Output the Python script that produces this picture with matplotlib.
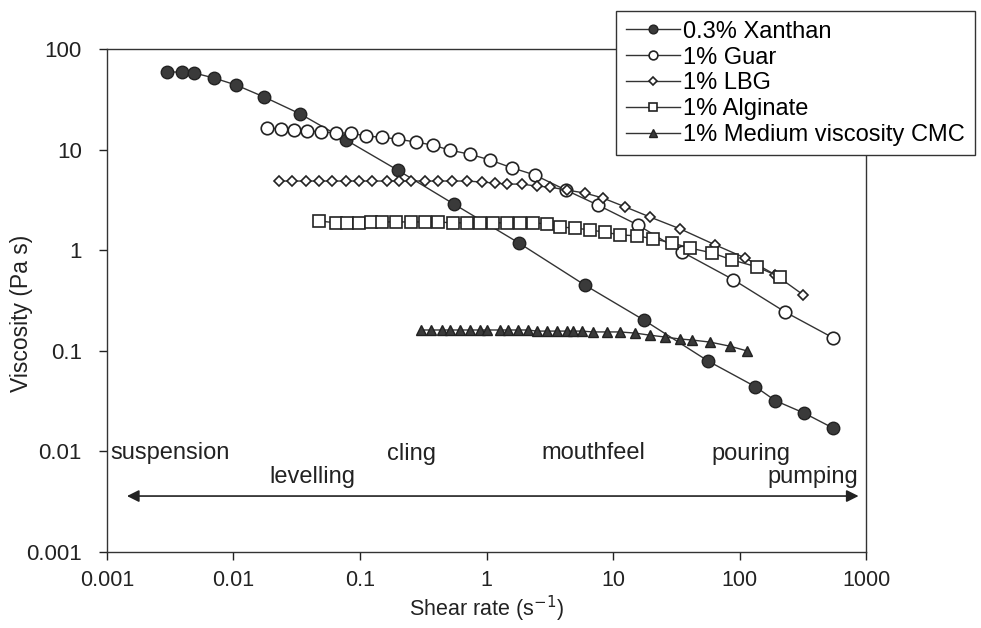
import numpy as np
import matplotlib.pyplot as plt

plt.rcParams['font.family'] = ['Liberation Sans', 'DejaVu Sans']

# 0.3% Xanthan
xan_x = [0.0030, 0.0039, 0.0049, 0.0070, 0.0105, 0.0175, 0.0337, 0.078, 0.198, 0.55,
         1.80, 5.98, 17.5, 56.4, 133, 191, 324, 550]
xan_y = [59, 59, 57.7, 51.5, 43.8, 33.3, 22.6, 12.4, 6.26, 2.88,
         1.18, 0.45, 0.202, 0.079, 0.044, 0.032, 0.024, 0.017]

# 1% Guar
guar_x = [0.0185, 0.0239, 0.0303, 0.0384, 0.0495, 0.065, 0.0855, 0.112, 0.148, 0.198,
          0.275, 0.374, 0.51, 0.735, 1.06, 1.58, 2.40, 4.23, 7.58, 15.7,
          35.1, 88.9, 229, 550]
guar_y = [16.4, 16.0, 15.7, 15.3, 15.0, 14.6, 14.6, 13.6, 13.3, 12.7,
          11.9, 11.1, 9.9, 9.0, 7.9, 6.6, 5.6, 3.96, 2.81, 1.78,
          0.96, 0.51, 0.243, 0.134]

# 1% LBG
lbg_x = [0.0230, 0.0292, 0.0376, 0.0477, 0.0604, 0.078, 0.0989, 0.125, 0.162, 0.205,
         0.255, 0.324, 0.410, 0.530, 0.695, 0.914, 1.16, 1.44, 1.90, 2.49,
         3.16, 4.31, 5.98, 8.30, 12.4, 19.5, 33.8, 64.0, 111, 191, 318]
lbg_y = [4.87, 4.87, 4.87, 4.87, 4.87, 4.87, 4.87, 4.87, 4.87, 4.87,
         4.87, 4.87, 4.87, 4.87, 4.87, 4.76, 4.65, 4.54, 4.54, 4.33,
         4.24, 3.96, 3.70, 3.30, 2.70, 2.14, 1.63, 1.13, 0.835, 0.57, 0.36]

# 1% Alginate
alg_x = [0.0477, 0.065, 0.0795, 0.0989, 0.123, 0.150, 0.194, 0.255, 0.324, 0.410,
         0.539, 0.695, 0.881, 1.12, 1.44, 1.83, 2.32, 2.99, 3.79, 4.99,
         6.55, 8.61, 11.3, 15.4, 20.6, 29.2, 40.5, 60.5, 87.3, 138, 209]
alg_y = [1.95, 1.87, 1.87, 1.87, 1.91, 1.91, 1.91, 1.91, 1.91, 1.91,
         1.87, 1.87, 1.87, 1.87, 1.87, 1.87, 1.87, 1.83, 1.70, 1.66,
         1.59, 1.51, 1.42, 1.39, 1.30, 1.18, 1.05, 0.94, 0.80, 0.68, 0.54]

# 1% Medium viscosity CMC
cmc_x = [0.306, 0.367, 0.441, 0.511, 0.612, 0.735, 0.881, 1.00, 1.27, 1.47,
         1.76, 2.11, 2.49, 2.99, 3.59, 4.31, 4.81, 5.66, 6.92, 8.93,
         11.3, 14.9, 19.5, 25.7, 33.8, 42.1, 58.4, 84.1, 115]
cmc_y = [0.161, 0.161, 0.161, 0.161, 0.161, 0.161, 0.161, 0.161, 0.161, 0.161,
         0.161, 0.161, 0.157, 0.157, 0.157, 0.157, 0.157, 0.157, 0.154, 0.154,
         0.154, 0.150, 0.143, 0.137, 0.131, 0.128, 0.122, 0.111, 0.0995]

# application regions
region_labels = ['suspension', 'levelling', 'cling', 'mouthfeel', 'pouring', 'pumping']
region_x = [0.00107, 0.0192, 0.162, 2.73, 59.4, 165]
region_y = [0.0096, 0.0056, 0.0095, 0.0097, 0.0095, 0.0056]

xticks = [0.001, 0.01, 0.1, 1, 10, 100, 1000]
xtick_labels = ['0.001', '0.01', '0.1', '1', '10', '100', '1000']
yticks = [0.001, 0.01, 0.1, 1, 10, 100]
ytick_labels = ['0.001', '0.01', '0.1', '1', '10', '100']

fig = plt.figure(figsize=(9.81, 6.28), dpi=100)
ax = fig.add_axes([0.109, 0.121, 0.774, 0.801])

lc = '#333333'
ec = '#222222'
ax.plot(xan_x, xan_y, '-o', color=lc, lw=1, ms=9, mfc='#3a3a3a', mec=ec,
        label='0.3% Xanthan')
ax.plot(guar_x, guar_y, '-o', color=lc, lw=1, ms=9, mfc='white', mec=ec,
        mew=1.2, label='1% Guar')
ax.plot(lbg_x, lbg_y, '-D', color=lc, lw=1, ms=5.5, mfc='white', mec=ec,
        mew=1.2, label='1% LBG')
ax.plot(alg_x, alg_y, '-s', color=lc, lw=1, ms=9, mfc='white', mec=ec,
        mew=1.2, label='1% Alginate')
ax.plot(cmc_x, cmc_y, '-^', color=lc, lw=1, ms=7.5, mfc='#3a3a3a', mec=ec,
        label='1% Medium viscosity CMC')

ax.set_xscale('log')
ax.set_yscale('log')
ax.set_xlim(0.001, 1000)
ax.set_ylim(0.001, 100)
ax.set_xticks(xticks)
ax.set_xticklabels(xtick_labels)
ax.set_yticks(yticks)
ax.set_yticklabels(ytick_labels)
ax.minorticks_off()
ax.tick_params(labelsize=16, length=6, width=1, direction='out', colors='#222222')
ax.tick_params(axis='x', pad=7, labelsize=15.5)
ax.tick_params(axis='y', pad=12)
for s in ax.spines.values():
    s.set_color('#333333')
    s.set_linewidth(1)

ax.set_xlabel('Shear rate (s$^{-1}$)', fontsize=15.5, color='#222222', labelpad=2)
ax.set_ylabel('Viscosity (Pa s)', fontsize=16.5, color='#222222')
ax.yaxis.label.set_verticalalignment('center')
ax.yaxis.set_label_coords(-0.112, 0.475)

for lab, tx, ty in zip(region_labels, region_x, region_y):
    ax.text(tx, ty, lab, fontsize=17, color='#222222', ha='left', va='center')

ax.annotate('', xy=(0.00144, 0.0036), xytext=(870, 0.0036),
            arrowprops=dict(arrowstyle='<|-|>', color='#222222', lw=1.2,
                            mutation_scale=18, shrinkA=0, shrinkB=0))

leg = ax.legend(loc='upper left', bbox_to_anchor=(0.628, 0.982),
                bbox_transform=fig.transFigure, fontsize=17, frameon=True,
                fancybox=False, edgecolor='#333333', framealpha=1,
                handlelength=2.3, handletextpad=0.15, labelspacing=0.16,
                borderpad=0.4, borderaxespad=0, markerscale=0.7)
leg.get_frame().set_linewidth(1)

fig.savefig('out.png', dpi=100)
